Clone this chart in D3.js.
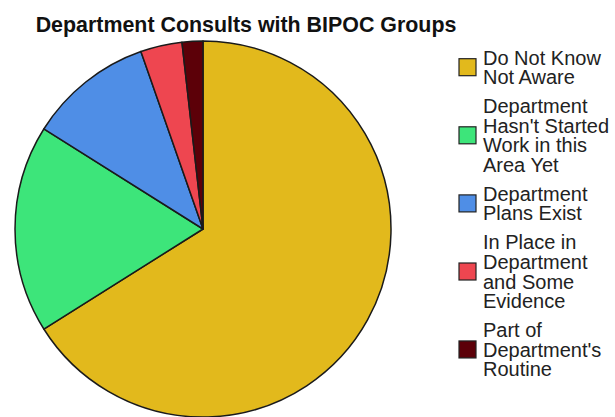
<!DOCTYPE html>
<html>
<head>
<meta charset="utf-8">
<script src="https://cdn.jsdelivr.net/npm/d3@7"></script>
<style>
  html, body { margin: 0; padding: 0; background: #fff; }
  svg { display: block; }
</style>
</head>
<body>
<svg id="chart" width="615" height="417"></svg>
<script>
const title = "Department Consults with BIPOC Groups";
const categories = [
  "Do Not Know Not Aware",
  "Department Hasn't Started Work in this Area Yet",
  "Department Plans Exist",
  "In Place in Department and Some Evidence",
  "Part of Department's Routine"
];
const legendLines = [
  ["Do Not Know", "Not Aware"],
  ["Department", "Hasn't Started", "Work in this", "Area Yet"],
  ["Department", "Plans Exist"],
  ["In Place in", "Department", "and Some", "Evidence"],
  ["Part of", "Department's", "Routine"]
];
const values = [37, 10, 6, 2, 1];
const colors = ["#E2B91C", "#3DE57A", "#4F8EE6", "#EE4650", "#5C0008"];

const svg = d3.select("#chart");
const font = "'Liberation Sans', Arial, sans-serif";

svg.append("text")
  .attr("x", 246).attr("y", 32)
  .attr("text-anchor", "middle")
  .attr("font-family", font)
  .attr("font-weight", "bold")
  .attr("font-size", 21.4)
  .attr("fill", "#111")
  .text(title);

const cx = 203, cy = 229, r = 188;
const color = d3.scaleOrdinal().domain(categories).range(colors);
const pie = d3.pie().sort(null).value(d => d.v);
const data = categories.map((c, i) => ({ c, v: values[i] }));
const arc = d3.arc().innerRadius(0).outerRadius(r);

const g = svg.append("g").attr("transform", `translate(${cx},${cy})`);
g.selectAll("path")
  .data(pie(data))
  .join("path")
  .attr("d", arc)
  .attr("fill", d => color(d.data.c))
  .attr("stroke", "#1a1a1a")
  .attr("stroke-width", 1.5)
  .attr("stroke-linejoin", "round");

// Legend
const lineH = 19.7, gap = 9, x0 = 459, tx = 483;
let baseline = 64.5;
const leg = svg.append("g");
legendLines.forEach((lines, i) => {
  const first = baseline;
  const last = first + (lines.length - 1) * lineH;
  const mid = ((first - 14.3) + last) / 2;
  leg.append("rect")
    .attr("x", x0).attr("y", mid - 8.5)
    .attr("width", 17).attr("height", 17)
    .attr("fill", color(categories[i]))
    .attr("stroke", "#222")
    .attr("stroke-width", 1.2);
  const t = leg.append("text")
    .attr("x", tx).attr("y", first)
    .attr("font-family", font)
    .attr("font-size", 20)
    .attr("fill", "#222");
  t.selectAll("tspan")
    .data(lines)
    .join("tspan")
    .attr("x", tx)
    .attr("y", (d, j) => first + j * lineH)
    .text(d => d);
  baseline = last + lineH + gap;
});
</script>
</body>
</html>
